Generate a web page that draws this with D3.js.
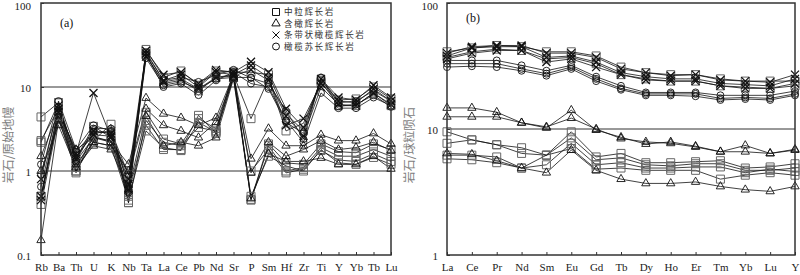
<!DOCTYPE html>
<html>
<head>
<meta charset="utf-8">
<script src="https://cdn.jsdelivr.net/npm/d3@7"></script>
<style>
  body { margin: 0; background: #fff; }
  svg { display: block; }
</style>
</head>
<body>
<div id="chart"></div>
<script>
// categories
const catsA = ["Rb","Ba","Th","U","K","Nb","Ta","La","Ce","Pb","Nd","Sr","P","Sm","Hf","Zr","Ti","Y","Yb","Tb","Lu"];
const catsB = ["La","Ce","Pr","Nd","Sm","Eu","Gd","Tb","Dy","Ho","Er","Tm","Yb","Lu","Y"];
const ticksA = [0.1, 1, 10, 100];
const ticksB = [1, 10, 100];

// (a) rock / primitive mantle
const squareA = [
  [2.2,6.5,1.0,2.3,3.6,0.42,28,13,15.5,10.5,15.5,15,15,14,4.8,3.0,12,7.0,7.2,10,7.2],
  [0.5,4.5,1.1,2.6,2.2,0.5,24,11,12,9,13,14,4.2,12.5,3.0,3.7,11.5,6.0,6.0,8.5,6.0],
  [4.4,6.5,1.4,3.4,2.5,0.9,5.0,2.4,2.1,4.2,3.2,15,0.46,2.1,1.25,1.2,2.1,1.7,1.65,2.1,1.8],
  [2.3,5.5,0.95,2.8,3.0,0.42,4.0,2.2,2.0,3.3,3.0,14.5,0.45,2.0,1.0,1.1,1.9,1.5,1.5,1.8,1.5],
  [0.5,4.5,1.3,2.5,2.3,0.55,3.5,1.8,1.8,4.6,2.8,13.5,1.0,1.8,0.95,1.05,1.75,1.35,1.3,1.6,1.3],
  [0.4,4.2,1.0,2.2,2.0,0.45,3.0,1.9,1.75,3.8,2.9,13,0.5,1.5,1.15,1.0,1.8,1.25,1.2,1.45,1.2]
];
const triangleA = [
  [1.5,5,1.8,2.5,2.2,1.2,7.4,4.8,4.3,3.5,4.3,14,1.4,3.2,2.0,2.0,2.7,2.3,2.3,2.8,2.1],
  [0.15,4,1.2,2.2,2.0,1.0,5.5,3.5,3.0,2.5,3.8,13,0.95,2.2,1.5,1.8,2.3,1.8,1.9,2.2,1.75],
  [1.0,3.5,1.1,2.0,1.8,0.6,4.5,2.0,2.2,2.0,2.5,12.5,0.47,1.6,1.3,1.3,1.43,1.2,1.2,1.5,1.06]
];
const crossA = [
  [0.5,5.5,1.6,8.5,2.5,0.6,27,14,15,11,16,15,20,15,5.5,3.3,12.5,7.5,7.0,10.5,7.5],
  [0.45,5,1.4,3,2.8,0.7,25,12,14,10,15,14,18,13,3.5,4.2,11,6.8,6.5,9.5,6.8],
  [0.8,6,1.5,2.7,2.6,0.8,23,11.5,12.5,9.5,13,13.5,16,12,4.5,2.6,10,6.2,6.0,8.5,6.2]
];
const circleA = [
  [1.2,6.8,1.8,3.5,3.0,0.9,26,12,13,11.5,14,16,12.8,11,5.2,2.4,13,6.5,6.8,9.0,6.8],
  [0.9,5.8,1.3,3.2,3.2,0.65,24.5,10,11,8,12,15,11,10,4,2.2,8.5,5.6,5.6,7.5,6.0],
  [0.65,5.2,1.7,2.9,2.9,0.55,22,10.5,11.5,9.5,12.5,13,13,9.5,3.8,2.8,12.8,5.9,6.2,8,5.8]
];

// (b) rock / chondrite
const squareB = [
  [41,44,46,45,41,41,38,31,28,27,27,25,24,24,24],
  [37,41,43,42,36,37,33,27,25,24,24,22,21.5,21,22],
  [9.5,8.2,7.5,6.4,6.2,9.5,6.0,6.4,5.4,5.4,5.5,5.6,4.9,5.0,5.3],
  [7.7,8.2,7.5,7.1,6.2,8.5,5.7,5.9,5.2,5.1,5.3,5.3,4.7,4.7,4.9],
  [6.2,6.2,6.0,4.9,5.2,7.7,5.2,5.4,4.9,4.9,5.0,5.0,4.5,4.8,4.6],
  [5.8,5.7,5.4,4.9,6.2,7.0,4.8,4.9,4.7,4.7,4.7,4.0,4.3,4.5,4.3]
];
const triangleB = [
  [14.7,14.7,13.6,11.2,10.2,14.1,9.8,8.6,7.6,7.9,7.3,6.6,7.4,6.4,6.9],
  [12.5,12.5,12.5,11.2,10.4,12.2,10.0,8.4,7.9,7.7,7.2,6.6,6.6,6.4,6.8],
  [6.4,6.3,5.6,4.9,4.5,6.8,4.7,4.0,3.7,3.7,3.8,3.5,3.3,3.2,3.5]
];
const crossB = [
  [40,45,46,46,40,40,37,30,28,26.5,27,24.5,24,23.5,27],
  [38,44,45,45,37,38,34,28,26,25,25,23,22.5,22,25],
  [36,40,42,42,34,36,31,27,24.5,24,24,22,21,21,23]
];
const circleB = [
  [35,35,35,32,29,32,26,22,19.5,19.5,19.5,18.5,18.5,18.5,20],
  [33,33,33,30,27.5,31,25,21,19,19,19,17.5,17.8,17.5,19],
  [31,31.5,31,29,26.5,30,24,20.5,18.5,18.5,18.2,17,17.3,17,18.5]
];

const legendNames = ["中粒辉长岩","含橄辉长岩","条带状橄榄辉长岩","橄榄苏长辉长岩"];

const W = 800, H = 275;
const serif = "Liberation Serif, DejaVu Serif, serif";
const cjk = "Noto Sans CJK SC, sans-serif";
const svg = d3.select("#chart").append("svg").attr("width", W).attr("height", H);

// symbol shapes
function symPath(kind) {
  if (kind === "square") return d3.symbol(d3.symbolSquare, 64)();
  if (kind === "triangle") return d3.symbol(d3.symbolTriangle, 30)();
  if (kind === "circle") return d3.symbol(d3.symbolCircle, 38)();
  const s = 4;
  return `M${-s},${-s}L${s},${s}M${-s},${s}L${s},${-s}`;
}
const symStyle = {
  square: { stroke: "#666", width: 1 },
  triangle: { stroke: "#111", width: 0.9 },
  cross: { stroke: "#111", width: 1.3 },
  circle: { stroke: "#111", width: 0.9 }
};

function panel(cats, groups, yDomain, xRange, ticks, grid, label, title, titleX, labelX) {
  const x = d3.scalePoint().domain(cats).range(xRange).padding(0);
  const y = d3.scaleLog().domain(yDomain).range([255, 3]);
  const g = svg.append("g");

  // gridlines
  grid.forEach(v => {
    g.append("line")
      .attr("x1", xRange[0]).attr("x2", xRange[1])
      .attr("y1", y(v)).attr("y2", y(v))
      .attr("stroke", "#333").attr("stroke-width", 1);
  });

  const line = d3.line().x((d, i) => x(cats[i])).y(d => y(d));

  groups.forEach(([kind, rows]) => {
    rows.forEach(r => {
      g.append("path").datum(r)
        .attr("d", line)
        .attr("fill", "none")
        .attr("stroke", "#111")
        .attr("stroke-width", 0.8);
    });
  });
  groups.forEach(([kind, rows]) => {
    rows.forEach(r => {
      g.selectAll(null).data(r).enter().append("path")
        .attr("d", symPath(kind))
        .attr("transform", (d, i) => `translate(${x(cats[i])},${y(d)})`)
        .attr("fill", "none")
        .attr("stroke", symStyle[kind].stroke)
        .attr("stroke-width", symStyle[kind].width);
    });
  });

  // axes
  g.append("g")
    .attr("transform", "translate(0,255)")
    .call(d3.axisBottom(x).tickSize(-3).tickPadding(8))
    .attr("font-family", serif).attr("font-size", 11)
    .call(a => a.select(".domain").remove())
    .call(a => a.selectAll(".tick line").attr("stroke", "#333"))
    .call(a => a.selectAll(".tick text").attr("fill", "#222"));
  const ya = g.append("g")
    .attr("transform", `translate(${xRange[0]},0)`)
    .call(d3.axisLeft(y).tickValues(ticks).tickSize(-3).tickPadding(labelX).tickFormat(d => String(d)))
    .attr("font-family", serif).attr("font-size", 11)
    .call(a => a.select(".domain").remove())
    .call(a => a.selectAll(".tick line").attr("stroke", "#333"))
    .call(a => a.selectAll(".tick text").attr("fill", "#222").attr("dy", "0.45em"));
  // top label sits a little lower so it stays inside the picture
  ya.selectAll(".tick text").filter(d => d === 100).attr("dy", "0.62em");

  // frame
  g.append("rect")
    .attr("x", xRange[0]).attr("y", 3)
    .attr("width", xRange[1] - xRange[0]).attr("height", 252)
    .attr("fill", "none").attr("stroke", "#333").attr("stroke-width", 1.5);

  g.append("text")
    .attr("x", xRange[0] + 19).attr("y", label === "(a)" ? 27 : 22)
    .attr("font-family", serif).attr("font-size", 12)
    .attr("fill", "#111")
    .text(label);

  g.append("text")
    .attr("transform", `translate(${titleX},145) rotate(-90)`)
    .attr("text-anchor", "middle")
    .attr("font-family", cjk).attr("font-size", 12)
    .attr("fill", "#808080")
    .text(title);
  return g;
}

panel(catsA, [["square", squareA], ["triangle", triangleA], ["cross", crossA], ["circle", circleA]],
  [0.1, 100], [41, 391], ticksA, [1, 10], "(a)", "岩石/原始地幔", 12.5, 10);
panel(catsB, [["square", squareB], ["triangle", triangleB], ["cross", crossB], ["circle", circleB]],
  [1, 100], [447, 795], ticksB, [10], "(b)", "岩石/球粒陨石", 414, 9);

// legend
const kinds = ["square", "triangle", "cross", "circle"];
const legend = svg.append("g").attr("transform", "translate(276,12)");
kinds.forEach((k, i) => {
  const row = legend.append("g").attr("transform", `translate(0,${i * 11.5})`);
  const p = k === "square" ? d3.symbol(d3.symbolSquare, 49)() : k === "cross" ? `M-3.5,-3.5L3.5,3.5M-3.5,3.5L3.5,-3.5` : symPath(k);
  row.append("path").attr("d", p)
    .attr("fill", "none").attr("stroke", "#111").attr("stroke-width", 1);
  row.append("text")
    .attr("x", 8).attr("y", 3.2)
    .attr("font-family", cjk).attr("font-size", 8.6)
    .attr("letter-spacing", 1.6)
    .attr("fill", "#333")
    .text(legendNames[i]);
});
</script>
</body>
</html>
